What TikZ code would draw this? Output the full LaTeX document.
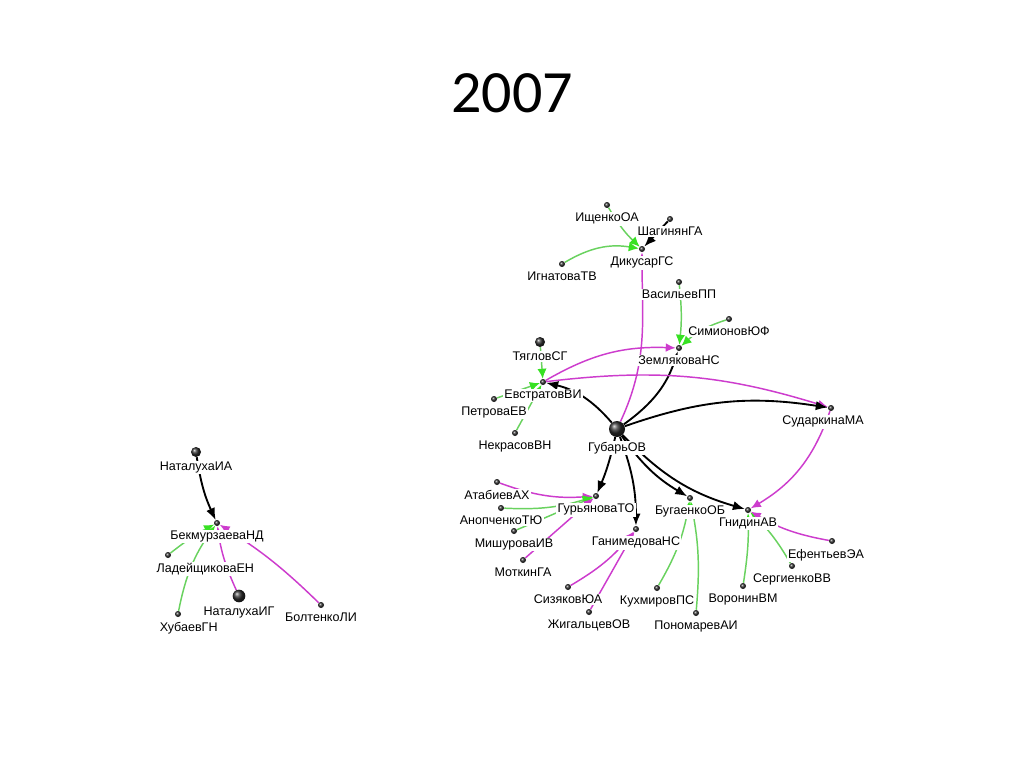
\documentclass[tikz,border=0pt]{standalone}
\usepackage{fontspec}
\setmainfont{Liberation Sans}
\newfontfamily\titlefont{Carlito}
\usepackage{xcolor}
\usetikzlibrary{arrows.meta,shadings}
\definecolor{magedge}{RGB}{205,60,205}
\definecolor{grnedge}{RGB}{105,210,95}
\definecolor{grnhead}{RGB}{55,225,35}
\pgfdeclarelayer{edges}
\pgfsetlayers{edges,main}
\tikzset{
  pt/.style={circle, inner sep=0pt, minimum size=4.5pt, shading=ball, ball color=gray!35!black},
  bigpt/.style={pt, minimum size=7.5pt},
  hugept/.style={pt, minimum size=9.5pt},
  hubpt/.style={pt, minimum size=12pt},
  lbl/.style={fill=white, inner sep=1pt, font=\fontsize{9.4}{10}\selectfont},
  blk/.style={black, line width=1.4pt, -{Latex[length=9pt,width=7pt]}},
  grn/.style={grnedge, line width=1.1pt, -{Latex[length=7.5pt,width=7pt,color=grnhead]}},
  mag/.style={magedge, line width=1.1pt, -{Latex[length=7.5pt,width=6.5pt]}},
}
\begin{document}
\begin{tikzpicture}[x=0.75pt, y=0.75pt, label distance=2.3pt]
    \useasboundingbox (0,0) rectangle (1024,-767);
    \node [font=\titlefont\fontsize{45}{50}\selectfont] (title) at (512,-93) {2007};

    % left group
    \node [bigpt, label={[lbl]below:НаталухаИА}] (natia) at (196,-452) {};
    \node [pt, label={[lbl]below:БекмурзаеваНД}] (bekm) at (217,-523) {};
    \node [pt, label={[lbl,xshift=28pt]below:ЛадейщиковаЕН}] (lade) at (168,-555) {};
    \node [pt, label={[lbl,xshift=8pt]below:ХубаевГН}] (khub) at (178,-614) {};
    \node [hugept, label={[lbl]below:НаталухаИГ}] (natig) at (239,-596) {};
    \node [pt, label={[lbl]below:БолтенкоЛИ}] (bolt) at (321,-605) {};

    % right group
    \node [pt, label={[lbl]below:ИщенкоОА}] (ishch) at (607,-205) {};
    \node [pt, label={[lbl]below:ШагинянГА}] (shag) at (670,-219) {};
    \node [pt, label={[lbl]below:ДикусарГС}] (dikus) at (642,-249) {};
    \node [pt, label={[lbl]below:ИгнатоваТВ}] (ignat) at (562,-264) {};
    \node [pt, label={[lbl]below:ВасильевПП}] (vasil) at (679,-282) {};
    \node [pt, label={[lbl]below:СимионовЮФ}] (simion) at (729,-319) {};
    \node [pt, label={[lbl]below:ЗемляковаНС}] (zeml) at (679,-348) {};
    \node [bigpt, label={[lbl]below:ТягловСГ}] (tyagl) at (540,-342) {};
    \node [pt, label={[lbl]below:ЕвстратовВИ}] (evstr) at (543,-382) {};
    \node [pt, label={[lbl]below:ПетроваЕВ}] (petr) at (494,-399) {};
    \node [pt, label={[lbl]below:НекрасовВН}] (nekr) at (515,-433) {};
    \node [hubpt, label={[lbl]below:ГубарьОВ}] (gubar) at (617,-429) {};
    \node [pt, label={[lbl,xshift=-6pt]below:СударкинаМА}] (sudar) at (831,-408) {};
    \node [pt, label={[lbl]below:АтабиевАХ}] (atab) at (497,-482) {};
    \node [pt, label={[lbl]below:ГурьяноваТО}] (gury) at (596,-496) {};
    \node [pt, label={[lbl]below:АнопченкоТЮ}] (anop) at (501,-508) {};
    \node [pt, label={[lbl]below:МишуроваИВ}] (mish) at (514,-531) {};
    \node [pt, label={[lbl]below:МоткинГА}] (motk) at (523,-560) {};
    \node [pt, label={[lbl]below:ГанимедоваНС}] (ganim) at (636,-529) {};
    \node [pt, label={[lbl]below:СизяковЮА}] (sizy) at (568,-587) {};
    \node [pt, label={[lbl]below:ЖигальцевОВ}] (zhig) at (589,-612) {};
    \node [pt, label={[lbl]below:БугаенкоОБ}] (bugae) at (690,-498) {};
    \node [pt, label={[lbl]below:ГнидинАВ}] (gnid) at (748,-510) {};
    \node [pt, label={[lbl,xshift=-4.5pt]below:ЕфентьевЭА}] (efent) at (832,-541) {};
    \node [pt, label={[lbl]below:СергиенкоВВ}] (serg) at (792,-566) {};
    \node [pt, label={[lbl]below:ВоронинВМ}] (voron) at (743,-586) {};
    \node [pt, label={[lbl]below:КухмировПС}] (kukh) at (657,-588) {};
    \node [pt, label={[lbl]below:ПономаревАИ}] (ponom) at (696,-613) {};

    \begin{pgfonlayer}{edges}
        \fill [white] (0,0) rectangle (1024,-767);
        % left group
        \draw [blk] (natia) to[bend right=8] (bekm);
        \draw [grn] (lade) to[bend left=5] (bekm);
        \draw [grn] (khub) to[bend left=12] (bekm);
        \draw [mag] (natig) to[bend left=8] (bekm);
        \draw [mag] (bolt) to[bend right=6] (bekm);
        % right group
        \draw [grn] (ishch) to[bend right=8] (dikus);
        \draw [blk] (shag) -- (dikus);
        \draw [grn] (ignat) to[bend left=20] (dikus);
        \draw [mag] (gubar) to[out=65, in=-90] (dikus);
        \draw [grn] (vasil) to[bend left=6] (zeml);
        \draw [grn] (simion) to[bend right=12] (zeml);
        \draw [mag] (evstr) to[bend left=16] (zeml);
        \draw [blk] (gubar) to[bend right=18] (zeml);
        \draw [grn] (tyagl) -- (evstr);
        \draw [grn] (petr) -- (evstr);
        \draw [grn] (nekr) -- (evstr);
        \draw [blk] (gubar) to[bend right=18] (evstr);
        \draw [mag] (evstr) to[bend left=12] (sudar);
        \draw [blk] (gubar) to[bend left=14] (sudar);
        \draw [mag] (sudar) to[bend left=20] (gnid);
        \draw [blk] (gubar) to[bend left=5] (gury);
        \draw [blk] (gubar) to[bend left=10] (ganim);
        \draw [blk] (gubar) to[bend right=12] (bugae);
        \draw [blk] (gubar) to[bend right=15] (gnid);
        \draw [mag] (atab) to[bend right=12] (gury);
        \draw [grn] (anop) to[bend right=10] (gury);
        \draw [grn] (mish) -- (gury);
        \draw [mag] (motk) -- (gury);
        \draw [mag] (sizy) to[bend right=10] (ganim);
        \draw [mag] (zhig) -- (ganim);
        \draw [grn] (kukh) to[bend right=10] (bugae);
        \draw [grn] (ponom) to[bend right=8] (bugae);
        \draw [grn] (voron) to[bend right=5] (gnid);
        \draw [grn] (serg) to[bend right=8] (gnid);
        \draw [mag] (efent) to[bend left=10] (gnid);
    \end{pgfonlayer}
\end{tikzpicture}
\end{document}
